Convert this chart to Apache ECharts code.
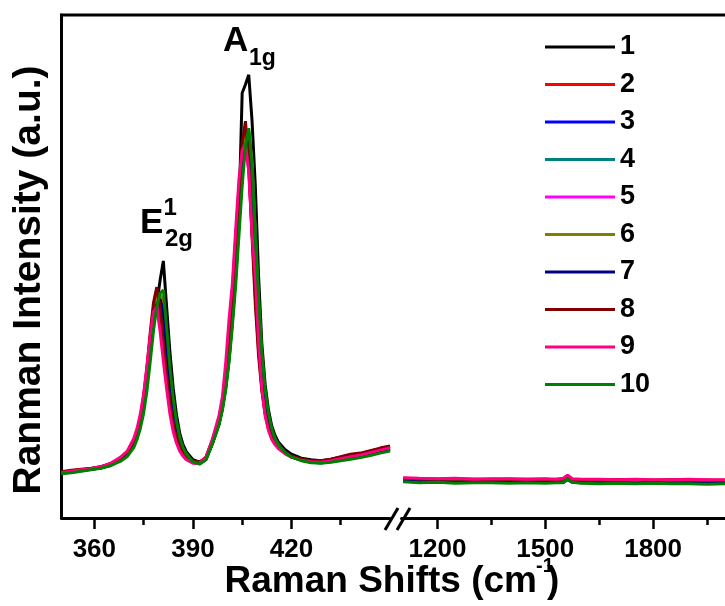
<!DOCTYPE html>
<html><head><meta charset="utf-8">
<script src="https://cdn.jsdelivr.net/npm/echarts@6/dist/echarts.min.js"></script>
<style>html,body{margin:0;padding:0;background:#fff}#c{width:725px;height:606px}</style>
</head><body><div id="c"></div>
<script>
const seriesNames = ['1','2','3','4','5','6','7','8','9','10'];
const seriesColors = ['#000000','#FF0000','#0000FF','#008080','#FF00FF','#808000','#000080','#800000','#FF0080','#008000'];

const xLeft = [350,353,356,359,362,365,368,370,372,373,374,375,376,377,378,379,380,381,382,383,384,385,386,387,388,390,392,394,396,398,399,400,401,402,403,404,405,406,407,408,409,410,411,412,413,414,415,416,418,420,423,426,429,432,435,438,441,444,447,450];

const left1 = [91,93,95,98,102,107,117,127,148,165,190,222,270,330,385,425,472,511,420,330,258,205,168,146,132,116,111,119,150,190,220,260,315,390,480,600,845,862,881,790,660,480,345,265,215,183,164,151,136,127,119,116,114,117,121,126,128,133,138,142];
const left2 = [91,94,96,98,101,107,118,128,150,170,197,236,292,360,418,446,425,360,292,232,190,161,142,129,121,112,110,120,154,195,228,276,340,422,520,630,732,772,712,575,440,332,258,210,180,161,149,141,130,122,116,113,112,115,120,125,127,132,137,141];
const left3 = [90,92,95,97,100,106,116,126,147,165,190,225,278,340,398,430,437,380,310,245,198,166,145,131,122,111,108,118,151,190,222,266,325,402,495,598,695,750,757,640,500,375,283,225,190,168,154,144,131,122,115,111,110,113,117,121,124,128,133,137];
const left4 = [89,91,94,97,100,105,115,124,144,161,185,218,266,326,386,425,440,425,350,278,222,181,153,136,125,112,108,117,149,188,218,260,318,392,475,578,678,748,765,700,560,420,310,240,198,172,156,145,131,122,115,111,110,112,116,119,122,126,131,135];
const left5 = [90,93,95,98,101,108,119,130,154,173,201,240,295,355,405,425,395,330,270,218,180,155,138,127,119,110,109,120,155,200,236,290,365,452,555,655,720,740,690,570,450,340,262,210,178,159,148,140,129,121,115,112,111,114,118,122,125,129,134,138];
const left6 = [89,92,94,97,100,105,115,125,145,163,187,220,270,330,390,430,445,430,355,282,225,183,155,137,126,112,108,117,150,188,219,262,320,395,480,582,682,752,770,710,570,425,315,243,200,173,157,146,131,122,115,111,110,112,116,120,123,127,132,136];
const left7 = [90,92,95,97,100,106,116,126,146,164,188,222,272,333,392,425,435,410,340,270,216,177,150,134,124,112,108,117,150,189,220,263,322,398,485,588,685,740,750,690,550,410,305,238,196,171,155,145,131,122,116,112,111,113,117,121,124,128,133,137];
const left8 = [92,95,97,99,102,108,119,130,153,173,200,240,298,368,428,459,420,350,285,228,188,160,141,129,121,113,111,121,156,198,232,282,348,432,532,642,745,789,705,560,425,322,252,206,178,160,148,140,130,123,117,114,114,117,122,127,129,134,139,143];
const left9 = [90,93,96,98,102,109,121,133,158,178,207,247,302,362,410,418,372,312,257,207,172,149,133,123,116,109,109,121,158,205,242,310,395,465,572,672,730,745,690,565,480,350,256,203,174,156,146,138,128,121,115,112,111,114,118,122,125,130,135,139];
const left10 = [88,90,93,96,99,104,113,122,140,156,178,208,252,310,372,420,447,453,380,300,238,192,160,140,127,112,107,116,148,186,215,255,310,380,460,560,660,740,775,700,560,440,330,255,208,178,158,146,130,121,114,110,109,111,114,117,120,124,129,133];

const xRight = [1105,1150,1200,1250,1300,1350,1400,1450,1500,1530,1550,1562,1575,1600,1650,1700,1750,1800,1850,1900,1950,2000];
const right1 = [76,75,75,74,75,74,75,74,74,75,75,80,74,74,73,74,73,73,73,72,73,72];
const right2 = [78,77,77,76,77,76,77,76,76,77,77,82,76,76,75,76,75,75,75,74,75,74];
const right3 = [74,73,73,72,73,72,73,72,72,72,73,78,72,72,71,72,71,71,71,70,71,70];
const right4 = [73,72,72,71,72,71,72,71,71,71,72,77,71,71,70,71,70,70,70,69,70,69];
const right5 = [77,76,76,75,76,75,76,75,75,75,76,81,75,75,74,75,74,74,74,73,74,73];
const right6 = [74,73,72,72,72,71,72,71,71,72,72,77,71,71,70,71,70,70,69,70,69,69];
const right7 = [73,72,72,71,72,71,71,71,71,71,71,76,71,70,70,70,69,70,69,69,69,69];
const right8 = [79,78,77,78,77,77,77,77,77,76,78,84,77,76,76,76,76,75,76,75,75,75];
const right9 = [80,79,78,79,77,78,78,77,78,77,79,85,78,77,77,76,77,76,76,77,76,76];
const right10 = [72,70,71,69,70,70,69,70,69,70,70,77,71,69,68,69,68,69,68,68,67,68];

const leftMajorTicks = [360,390,420];
const leftMinorTicks = [375,405,435];
const rightMajorTicks = [1200,1500,1800];
const rightMinorTicks = [1350,1650,1950];

const leftSets = [left1,left2,left3,left4,left5,left6,left7,left8,left9,left10];
const rightSets = [right1,right2,right3,right4,right5,right6,right7,right8,right9,right10];

const FF = '"Liberation Sans", Arial, sans-serif';
const chart = echarts.init(document.getElementById('c'), null, {renderer:'canvas'});

function pairs(xs, ys){ return xs.map((x,i)=>[x, ys[i]]); }

const series = [];
seriesNames.forEach((n,i)=>{
  series.push({name:n, type:'line', xAxisIndex:0, yAxisIndex:0, data:pairs(xLeft,leftSets[i]),
    showSymbol:false, symbol:'none', lineStyle:{color:seriesColors[i], width:3}, itemStyle:{color:seriesColors[i]}, z:2+i});
});
seriesNames.forEach((n,i)=>{
  series.push({name:n, type:'line', xAxisIndex:2, yAxisIndex:1, data:pairs(xRight,rightSets[i]),
    showSymbol:false, symbol:'none', lineStyle:{color:seriesColors[i], width:3}, itemStyle:{color:seriesColors[i]}, z:2+i});
});

const labelStyle = {fontSize:26, fontWeight:'bold', color:'#000', fontFamily:FF, margin:19, formatter:(v)=>String(v)};
function majorAxis(grid, min, max, ticks){
  return {gridIndex:grid, type:'value', position:'bottom', min:min, max:max,
    axisLine:{show:true, onZero:false, lineStyle:{color:'#000', width:3}},
    axisTick:{show:true, inside:false, length:11, customValues:ticks, lineStyle:{color:'#000', width:2.5}},
    axisLabel:Object.assign({show:true, customValues:ticks}, labelStyle),
    splitLine:{show:false}};
}
function minorAxis(grid, min, max, ticks){
  return {gridIndex:grid, type:'value', position:'bottom', min:min, max:max,
    axisLine:{show:false, onZero:false},
    axisTick:{show:true, inside:false, length:7, customValues:ticks, lineStyle:{color:'#000', width:2.5}},
    axisLabel:{show:false},
    splitLine:{show:false}};
}

const option = {
  animation:false,
  backgroundColor:'#fff',
  grid:[
    {left:61.5, top:15, width:328.5, height:503},
    {left:401.5, top:15, width:332, height:503}
  ],
  xAxis:[
    majorAxis(0,350,450,leftMajorTicks),
    minorAxis(0,350,450,leftMinorTicks),
    majorAxis(1,1100,2000,rightMajorTicks),
    minorAxis(1,1100,2000,rightMinorTicks)
  ],
  yAxis:[
    {gridIndex:0, type:'value', min:0, max:1000, axisLine:{show:true, lineStyle:{color:'#000', width:3}},
     axisTick:{show:false}, axisLabel:{show:false}, splitLine:{show:false}},
    {gridIndex:1, type:'value', min:0, max:1000, axisLine:{show:false}, axisTick:{show:false}, axisLabel:{show:false}, splitLine:{show:false}}
  ],
  legend:{
    orient:'vertical', left:545, top:33.5, padding:0, itemWidth:70, itemHeight:3, itemGap:10.5,
    icon:'rect',
    data:seriesNames, selectedMode:false,
    textStyle:{fontSize:27, fontWeight:'bold', color:'#000', fontFamily:FF}
  },
  graphic:[
    {type:'line', shape:{x1:60, y1:15, x2:725, y2:15}, style:{stroke:'#000', lineWidth:3}, z:100},
    {type:'line', shape:{x1:385, y1:530, x2:398, y2:508}, style:{stroke:'#000', lineWidth:3}, z:100},
    {type:'line', shape:{x1:397, y1:530, x2:410, y2:508}, style:{stroke:'#000', lineWidth:3}, z:100},
    {type:'text', x:537, y:582, z:100, style:{text:'Raman Shifts (cm', font:'bold 37px '+FF, fill:'#000', align:'right', textAlign:'right', verticalAlign:'middle', textVerticalAlign:'middle'}},
    {type:'text', x:536, y:566, z:100, style:{text:'-1', font:'bold 20px '+FF, fill:'#000', align:'left', textAlign:'left', verticalAlign:'middle', textVerticalAlign:'middle'}},
    {type:'text', x:547, y:582, z:100, style:{text:')', font:'bold 37px '+FF, fill:'#000', align:'left', textAlign:'left', verticalAlign:'middle', textVerticalAlign:'middle'}},
    {type:'text', x:29, y:280, rotation:Math.PI/2, z:100, style:{text:'Ranman Intensity (a.u.)', font:'bold 39px '+FF, fill:'#000', align:'center', textAlign:'center', verticalAlign:'middle', textVerticalAlign:'middle'}},
    {type:'text', x:223, y:41, z:100, style:{text:'A', font:'bold 35px '+FF, fill:'#000', align:'left', textAlign:'left', verticalAlign:'middle', textVerticalAlign:'middle'}},
    {type:'text', x:249, y:58.5, z:100, style:{text:'1g', font:'bold 23px '+FF, fill:'#000', align:'left', textAlign:'left', verticalAlign:'middle', textVerticalAlign:'middle'}},
    {type:'text', x:140, y:223.5, z:100, style:{text:'E', font:'bold 35px '+FF, fill:'#000', align:'left', textAlign:'left', verticalAlign:'middle', textVerticalAlign:'middle'}},
    {type:'text', x:163.5, y:208, z:100, style:{text:'1', font:'bold 24px '+FF, fill:'#000', align:'left', textAlign:'left', verticalAlign:'middle', textVerticalAlign:'middle'}},
    {type:'text', x:165, y:239, z:100, style:{text:'2g', font:'bold 24px '+FF, fill:'#000', align:'left', textAlign:'left', verticalAlign:'middle', textVerticalAlign:'middle'}}
  ],
  series:series
};
chart.setOption(option);
</script>
</body></html>
